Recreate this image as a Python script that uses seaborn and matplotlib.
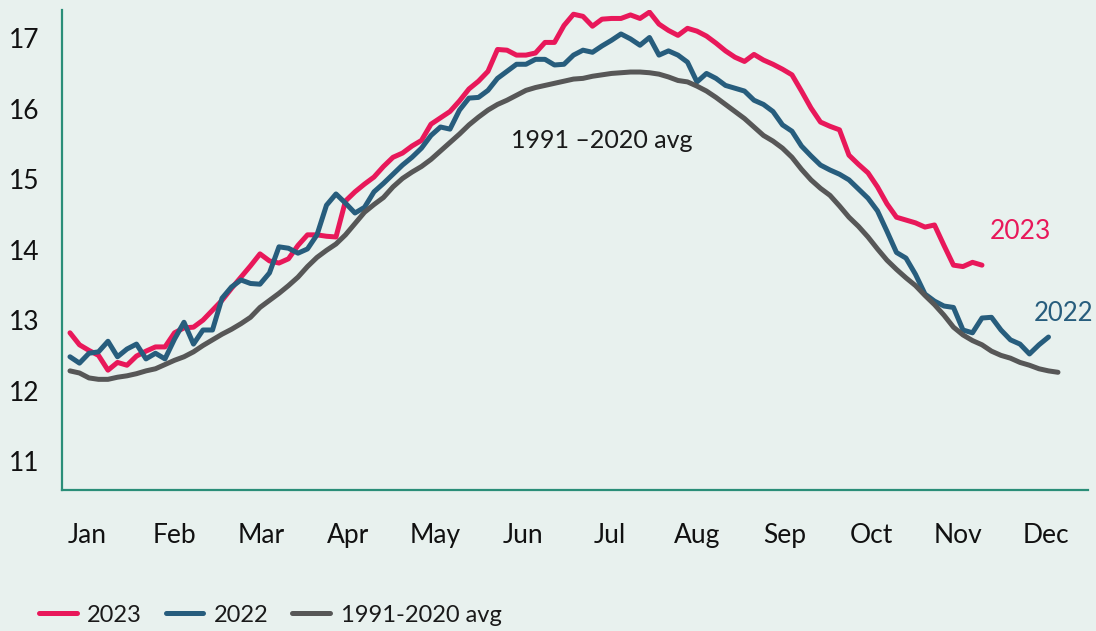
import matplotlib
matplotlib.use("Agg")
import matplotlib.pyplot as plt
import pandas as pd
import numpy as np
import seaborn as sns


# twice-weekly sea surface temperature readings (deg C)
avg_vals = [12.28, 12.25, 12.18, 12.16, 12.16, 12.19, 12.21, 12.24, 12.28, 12.31,
            12.37, 12.43, 12.48, 12.55, 12.64, 12.72, 12.80, 12.87, 12.95, 13.04,
            13.18, 13.28, 13.38, 13.49, 13.61, 13.76, 13.89, 13.99, 14.08, 14.21,
            14.37, 14.53, 14.64, 14.74, 14.89, 15.01, 15.10, 15.18, 15.28, 15.40,
            15.52, 15.64, 15.77, 15.88, 15.98, 16.06, 16.12, 16.19, 16.26, 16.30,
            16.33, 16.36, 16.39, 16.42, 16.43, 16.46, 16.48, 16.50, 16.51, 16.52,
            16.52, 16.51, 16.49, 16.45, 16.40, 16.38, 16.32, 16.25, 16.16, 16.06,
            15.96, 15.86, 15.74, 15.62, 15.54, 15.44, 15.31, 15.14, 14.99, 14.87,
            14.77, 14.62, 14.46, 14.33, 14.18, 14.01, 13.85, 13.72, 13.60, 13.49,
            13.35, 13.22, 13.07, 12.90, 12.79, 12.71, 12.65, 12.56, 12.50, 12.46,
            12.40, 12.36, 12.31, 12.28, 12.26]

y2022_vals = [12.48, 12.39, 12.53, 12.55, 12.70, 12.48, 12.59, 12.66, 12.45, 12.53,
              12.45, 12.73, 12.97, 12.66, 12.86, 12.86, 13.31, 13.47, 13.57, 13.52,
              13.51, 13.67, 14.04, 14.02, 13.95, 14.01, 14.21, 14.63, 14.79, 14.66,
              14.52, 14.60, 14.82, 14.94, 15.07, 15.20, 15.31, 15.44, 15.62, 15.74,
              15.71, 15.98, 16.15, 16.16, 16.26, 16.43, 16.53, 16.63, 16.63, 16.70,
              16.70, 16.62, 16.63, 16.76, 16.83, 16.80, 16.89, 16.97, 17.06, 16.99,
              16.90, 17.01, 16.76, 16.82, 16.76, 16.66, 16.38, 16.50, 16.43, 16.33,
              16.29, 16.25, 16.12, 16.06, 15.96, 15.77, 15.68, 15.47, 15.33, 15.20,
              15.13, 15.07, 14.99, 14.86, 14.73, 14.55, 14.26, 13.96, 13.88, 13.65,
              13.37, 13.27, 13.20, 13.18, 12.86, 12.82, 13.03, 13.04, 12.86, 12.72,
              12.66, 12.52, 12.65, 12.76]

y2023_vals = [12.82, 12.65, 12.57, 12.50, 12.29, 12.40, 12.36, 12.49, 12.56, 12.62,
              12.62, 12.82, 12.89, 12.90, 13.00, 13.14, 13.28, 13.45, 13.61, 13.77,
              13.94, 13.84, 13.81, 13.87, 14.06, 14.21, 14.21, 14.19, 14.18, 14.69,
              14.82, 14.93, 15.03, 15.18, 15.31, 15.37, 15.47, 15.55, 15.78, 15.87,
              15.96, 16.11, 16.28, 16.39, 16.53, 16.84, 16.83, 16.76, 16.76, 16.79,
              16.94, 16.94, 17.18, 17.34, 17.31, 17.17, 17.27, 17.28, 17.28, 17.33,
              17.28, 17.37, 17.20, 17.11, 17.04, 17.14, 17.10, 17.03, 16.93, 16.82,
              16.73, 16.67, 16.77, 16.69, 16.63, 16.56, 16.48, 16.25, 16.01, 15.81,
              15.75, 15.70, 15.34, 15.21, 15.09, 14.89, 14.65, 14.46, 14.42, 14.38,
              14.32, 14.35, 14.06, 13.78, 13.76, 13.82, 13.78]

months = ["Jan", "Feb", "Mar", "Apr", "May", "Jun",
          "Jul", "Aug", "Sep", "Oct", "Nov", "Dec"]
yticks = [11, 12, 13, 14, 15, 16, 17]

series_names = ["2023", "2022", "1991-2020 avg"]
colors = {"2023": "#E8185A", "2022": "#275D7D", "1991-2020 avg": "#575757"}
bg = "#E8F1EE"
spine_color = "#2A8E78"

sns.set_theme(style="white")
plt.rcParams["font.family"] = ["Lato", "DejaVu Sans"]

frames = []
for name, vals in zip(series_names, [y2023_vals, y2022_vals, avg_vals]):
    frames.append(pd.DataFrame({"point": np.arange(len(vals)), "temp": vals, "series": name}))
df = pd.concat(frames, ignore_index=True)

fig = plt.figure(figsize=(10.96, 6.31), dpi=100, facecolor=bg)
ax = fig.add_axes([62 / 1096, 1 - 490 / 631, 1026 / 1096, 480 / 631])
ax.set_facecolor(bg)

sns.lineplot(data=df, x="point", y="temp", hue="series", hue_order=series_names,
             palette=colors, linewidth=3.6, ax=ax)
for line in ax.get_lines():
    line.set_solid_capstyle("round")
    line.set_solid_joinstyle("round")

ax.set_xlim(-0.84, 107.16)
ax.set_ylim(10.59, 17.4)
ax.set_xticks(np.linspace(1.8, 102.7, 12))
ax.set_xticklabels(months)
ax.set_yticks(yticks)
ax.set_xlabel("")
ax.set_ylabel("")
ax.tick_params(axis="x", length=0, pad=24, labelsize=19, labelcolor="#111111")
ax.tick_params(axis="y", length=0, pad=16, labelsize=19, labelcolor="#111111")

for side in ["top", "right"]:
    ax.spines[side].set_visible(False)
for side in ["left", "bottom"]:
    ax.spines[side].set_color(spine_color)
    ax.spines[side].set_linewidth(1.6)

ax.text(46.4, 15.55, "1991 \u20132020 avg", fontsize=18, color="#1a1a1a",
        va="center", ha="left")
ax.text(96.8, 14.26, "2023", fontsize=19, color=colors["2023"], va="center", ha="left")
ax.text(101.5, 13.09, "2022", fontsize=18.5, color=colors["2022"], va="center", ha="left")

sns.move_legend(ax, "lower left", bbox_to_anchor=(0.016, -0.025),
                bbox_transform=fig.transFigure, ncol=3, frameon=False, title=None,
                fontsize=17, handlelength=1.6, handletextpad=0.45, columnspacing=1.0)
for text in ax.get_legend().get_texts():
    text.set_color("#1a1a1a")

fig.savefig("out.png", dpi=100, facecolor=bg)
